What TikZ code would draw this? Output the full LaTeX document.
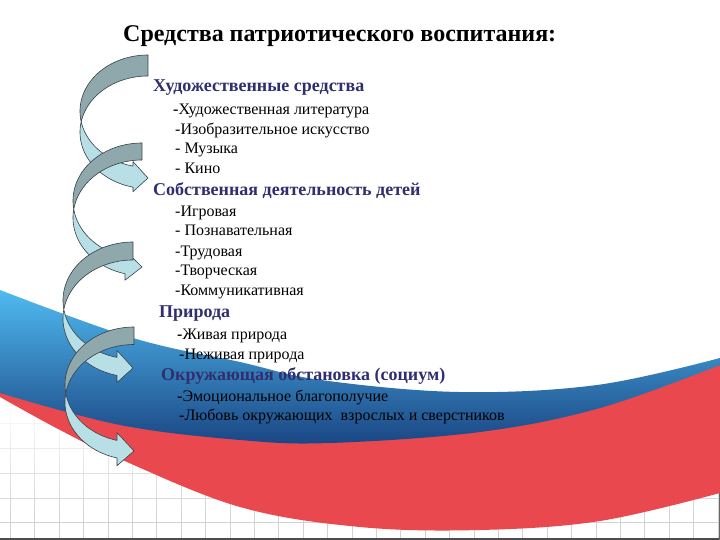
\documentclass[tikz,border=0pt]{standalone}
\usepackage{fontspec}
\setmainfont{Liberation Serif}
\definecolor{navy}{RGB}{47,47,112}
\definecolor{bluetop}{RGB}{80,186,240}
\definecolor{bluemid}{RGB}{50,128,202}
\definecolor{bluebot}{RGB}{26,70,132}
\definecolor{flagred}{RGB}{233,73,78}
\definecolor{arrdarkc}{RGB}{143,168,172}
\definecolor{arrlightc}{RGB}{184,222,230}
\definecolor{arroutc}{RGB}{55,65,70}
\tikzset{
  arrline/.style={draw=arroutc, line width=0.6pt, line join=round},
  titletext/.style={anchor=base west, inner sep=0pt, font=\bfseries\fontsize{24}{28}\selectfont},
  headtext/.style={anchor=base west, inner sep=0pt, text=navy, font=\bfseries\fontsize{18}{21}\selectfont},
  itemtext/.style={anchor=base west, inner sep=0pt, font=\fontsize{16}{19}\selectfont},
}
\newcommand\ptarrow[7]{%
 \begin{scope}
 \pgfmathsetmacro\qR{#1}%
 \pgfmathsetmacro\qT{#2}%
 \pgfmathsetmacro\qW{#3}%
 \pgfmathsetmacro\qTh{#4}%
 \pgfmathsetmacro\qH{#5}%
 \pgfmathsetmacro\qAw{#6}%
 \pgfmathsetmacro\qAh{#7}%
 \pgfmathsetmacro\qCa{\qT+\qH}%
 \pgfmathsetmacro\qCb{\qT+\qH+\qTh}%
 \pgfmathsetmacro\qPhi{asin(\qTh/(2*\qH))}%
 \pgfmathsetmacro\qA{acos(-\qAh/\qW)}%
 \pgfmathsetmacro\qXa{\qR-\qAh}%
 \pgfmathsetmacro\qYa{\qCa+\qH*sin(\qA)}%
 \pgfmathsetmacro\qYb{\qCb+\qH*sin(\qA)}%
 \pgfmathsetmacro\qDh{(\qAw-\qTh)/2}%
 \pgfmathsetmacro\qTip{\qCa+\qH+\qTh/2}%
 \filldraw[fill=arrlightc, arrline]
   plot[domain=0:1,samples=40,variable=\t]
     ({\qR+\qW*cos(180-\qPhi+(\qA-180+\qPhi)*\t)},{\qCa+\qH*sin(180-\qPhi+(\qA-180+\qPhi)*\t)})
   -- (\qXa,\qYa-\qDh) -- (\qR,\qTip) -- (\qXa,\qYb+\qDh) -- (\qXa,\qYb)
   -- plot[domain=0:1,samples=40,variable=\t]
     ({\qR+\qW*cos(\qA+(180+\qPhi-\qA)*\t)},{\qCb+\qH*sin(\qA+(180+\qPhi-\qA)*\t)})
   -- cycle;
 \filldraw[fill=arrdarkc, arrline]
   plot[domain=0:1,samples=40,variable=\t]
     ({\qR+\qW*cos(270+(-90-\qPhi)*\t)},{\qCa+\qH*sin(270+(-90-\qPhi)*\t)})
   -- plot[domain=0:1,samples=40,variable=\t]
     ({\qR+\qW*cos(180+\qPhi+(90-\qPhi)*\t)},{\qCb+\qH*sin(180+\qPhi+(90-\qPhi)*\t)})
   -- cycle;
 \end{scope}}
\begin{document}
\begin{tikzpicture}[x=1pt,y=-1pt]
\useasboundingbox (0,0) rectangle (720,540);
\fill[white] (0,0) rectangle (720,540);
% grid fading in towards the bottom
\foreach \j in {0,...,15}{
  \pgfmathsetmacro\ya{380+\j*10}
  \pgfmathsetmacro\yb{\ya+10}
  \pgfmathsetmacro\gp{min(18,max(0,(\ya-395)*0.15))}
  \foreach \k in {0,...,29}{
    \draw[black!\gp, line width=0.8pt] ({718-24.4*\k},\ya) -- ({718-24.4*\k},\yb);
  }
}
\foreach \yy in {423,448,473,498,522}{
  \pgfmathsetmacro\gq{min(18,max(0,(\yy-395)*0.15))}
  \draw[black!\gq, line width=0.8pt] (0,\yy) -- (720,\yy);
}
\draw[black!70, line width=1.2pt] (0,539) -- (720,539);
\draw[black!60, line width=1pt] (719,480) -- (719,540);
% red band
\fill[flagred] plot[smooth, tension=0.6] coordinates {(0,388) (120,419) (240,434) (330,437) (480,426) (600,402) (720,359)}
  -- (720,493)
  -- plot[smooth, tension=0.6] coordinates {(720,493) (600,521) (480,530) (360,527) (240,507) (120,459) (60,430) (0,397)}
  -- cycle;
% blue band
\shade[top color=bluetop, middle color=bluemid, bottom color=bluebot]
  plot[smooth, tension=0.6] coordinates {(0,290) (133,338) (240,362) (321,380) (459,392) (597,385) (720,358)}
  -- (720,365)
  -- plot[smooth, tension=0.6] coordinates {(720,365) (600,408) (480,432) (330,443) (240,440) (120,425) (0,393)}
  -- cycle;
% curved arrows
\ptarrow{148}{55}{68}{21}{56.25}{30}{15}
\ptarrow{142}{143}{69}{17}{57.75}{30}{17}
\ptarrow{133}{242}{70}{18}{58.5}{32}{16}
\ptarrow{134}{327}{69}{17.5}{57.6}{33}{17}
% texts
\node[titletext] (title) at (123,42) {Средства патриотического воспитания:};
\node[headtext] (h1) at (153,92) {Художественные средства};
\node[itemtext] (i11) at (173,115) {\textbf{-}Художественная литература};
\node[itemtext] (i12) at (175,135) {-Изобразительное искусство};
\node[itemtext] (i13) at (175,154) {- Музыка};
\node[itemtext] (i14) at (175,174) {- Кино};
\node[headtext] (h2) at (153,196) {Собственная деятельность детей};
\node[itemtext] (i21) at (175,217) {-Игровая};
\node[itemtext] (i22) at (175,236) {- Познавательная};
\node[itemtext] (i23) at (175,256) {-Трудовая};
\node[itemtext] (i24) at (175,275) {-Творческая};
\node[itemtext] (i25) at (175,295) {-Коммуникативная};
\node[headtext] (h3) at (159,317) {Природа};
\node[itemtext] (i31) at (177,339) {\textbf{-}Живая природа};
\node[itemtext] (i32) at (179,359) {-Неживая природа};
\node[headtext] (h4) at (161,380) {Окружающая обстановка (социум)};
\node[itemtext] (i41) at (177,401) {\textbf{-}Эмоциональное благополучие};
\node[itemtext] (i42) at (179,420) {-Любовь окружающих\ \ взрослых и сверстников};
\end{tikzpicture}
\end{document}
